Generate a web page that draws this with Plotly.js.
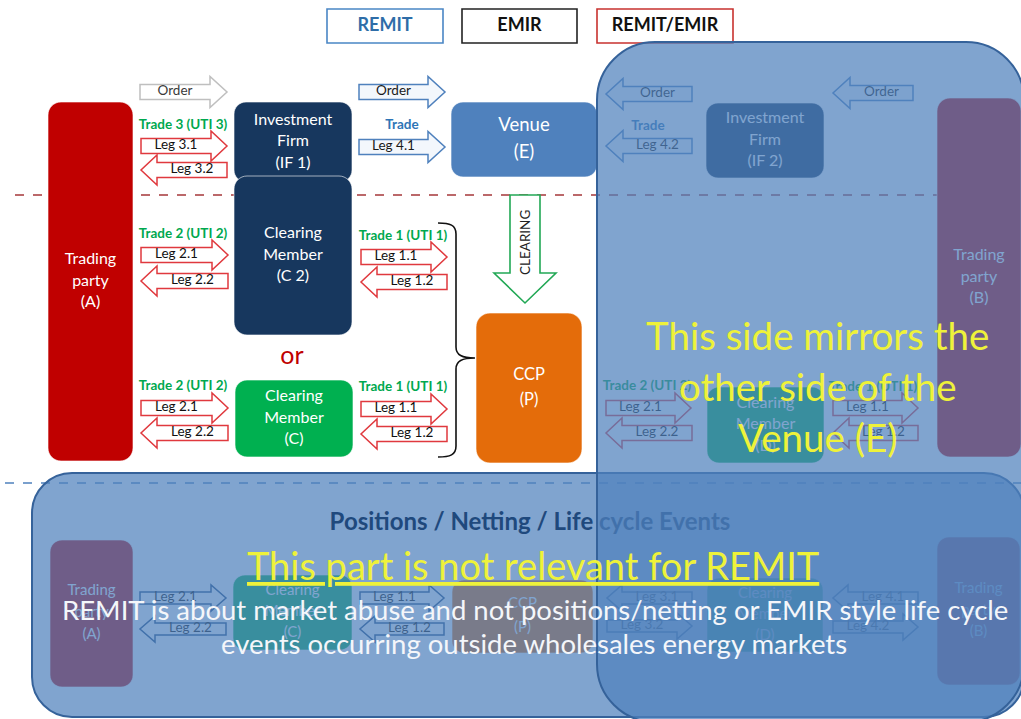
<!DOCTYPE html>
<html><head><meta charset="utf-8">
<script src="https://cdn.plot.ly/plotly-3.0.1.min.js"></script>
<style>html,body{margin:0;padding:0;background:#fff;overflow:hidden}#chart{width:1021px;height:719px}</style>
</head><body><div id="chart"></div>
<script>
// ================= DATA (texts) =================
const legendLabels = ['REMIT', 'EMIR', 'REMIT/EMIR'];
const boxLabels = [
  ['Trading', 'party', '(A)'],
  ['Investment', 'Firm', '(IF 1)'],
  ['Clearing', 'Member', '(C 2)'],
  ['Venue', '(E)'],
  ['Clearing', 'Member', '(C)'],
  ['CCP', '(P)'],
  ['Investment', 'Firm', '(IF 2)'],
  ['Clearing', 'Member', '(D)'],
  ['Trading', 'party', '(B)'],
  ['Trading', 'party', '(A)'],
  ['Clearing', 'Member', '(C)'],
  ['CCP', '(P)'],
  ['Clearing', 'Member', '(D)'],
  ['Trading', 'party', '(B)']
];
const arrowLabels = [
  'Order', 'Leg 3.1', 'Leg 3.2', 'Leg 2.1', 'Leg 2.2', 'Leg 1.1', 'Leg 1.2',
  'Leg 2.1', 'Leg 2.2', 'Leg 1.1', 'Leg 1.2', 'Order', 'Leg 4.1',
  'Order', 'Leg 4.2', 'Order', 'Leg 2.1', 'Leg 2.2', 'Leg 1.1', 'Leg 1.2',
  'Leg 2.1', 'Leg 2.2', 'Leg 1.1', 'Leg 1.2', 'Leg 3.1', 'Leg 3.2', 'Leg 4.1', 'Leg 4.2'
];
const tradeLabels = [
  'Trade 3 (UTI 3)', 'Trade 2 (UTI 2)', 'Trade 1 (UTI 1)', 'Trade 2 (UTI 2)', 'Trade 1 (UTI 1)',
  'Trade', 'Trade', 'Trade 2 (UTI 2)', 'Trade 1 (UTI 1)'
];
const orLabel = 'or';
const clearingLabel = 'CLEARING';
const sectionTitle = 'Positions / Netting / Life cycle Events';
const mirrorNote = ['This side mirrors the', 'other side of the', 'Venue (E)'];
const remitNote = [
  'This part is not relevant for REMIT',
  'REMIT is about market abuse and not positions/netting or EMIR style life cycle',
  'events occurring outside wholesales energy markets'
];

// ================= LAYOUT GEOMETRY & STYLES =================
const FONT = 'Lato, "Open Sans", sans-serif';
const legendGeom = [[327, 9, 443, 43], [462, 9, 577, 43], [597, 9, 733, 43]];
const legendLine = ['#4a86c5', '#222222', '#c8322f'];
const legendText = ['#2e6da8', '#111111', '#111111'];

// [x0,y0,x1,y1,radius]
const boxGeom = [
  [48, 102, 133, 461, 13], [234, 102, 352, 182, 12], [234, 176, 352, 335, 13],
  [451, 102, 597, 177, 12], [235, 380, 353, 457, 12], [476, 313, 582, 463, 14],
  [706, 103, 824, 178, 12], [707, 387, 824, 463, 12], [937, 98, 1021, 457, 13],
  [50, 540, 133, 687, 12], [233, 575, 352, 650, 12], [452, 580, 593, 653, 12],
  [707, 578, 823, 652, 12], [937, 537, 1020, 685, 12]
];
const boxFill = ['#c00000', '#17375e', '#17375e', '#4f81bd', '#00b050', '#e46c0a',
  '#17375e', '#00b050', '#c00000', '#c00000', '#00b050', '#e46c0a', '#00b050', '#c00000'];
const boxFontSize = [16, 16, 16, 18.5, 16, 16.5, 16, 16, 16, 15, 15, 15, 15, 15];
const boxLineGap = [21.5, 21.5, 21.5, 27, 21.5, 25, 21.5, 21.5, 21.5, 22, 21, 24, 21, 21.5];

// [x0, x1, yc, dir, kind]
const arrowGeom = [
  [140, 227, 92, 'r', 'grey'], [141, 227, 146, 'r', 'red'], [141, 227, 170, 'l', 'red'],
  [141, 228, 255, 'r', 'red'], [141, 228, 281, 'l', 'red'], [361, 447, 257, 'r', 'red'], [361, 447, 282, 'l', 'red'],
  [141, 228, 408, 'r', 'red'], [141, 228, 433, 'l', 'red'], [361, 447, 409, 'r', 'red'], [361, 447, 434, 'l', 'red'],
  [359, 445, 92, 'r', 'blue'], [359, 445, 147, 'r', 'blue'],
  [606, 692, 94, 'l', 'blue'], [606, 692, 146, 'l', 'blue'], [833, 913, 93, 'l', 'blue'],
  [606, 691, 408, 'r', 'red'], [606, 692, 433, 'l', 'red'], [833, 918, 408, 'r', 'red'], [833, 918, 433, 'l', 'red'],
  [140, 226, 598, 'r', 'dark'], [140, 226, 629, 'l', 'dark'], [360, 444, 598, 'r', 'dark'], [360, 444, 629, 'l', 'dark'],
  [607, 692, 598, 'l', 'dark'], [607, 692, 626, 'r', 'dark'], [833, 918, 598, 'l', 'dark'], [833, 918, 627, 'r', 'dark']
];
const arrowStyle = {
  grey: {line: '#bfbfbf', fill: '#ffffff', text: '#3a3a3a', bh: 15, hh: 31, hw: 17},
  blue: {line: '#4f81bd', fill: '#f3f7fc', text: '#1a1a1a', bh: 15, hh: 31, hw: 17},
  red:  {line: '#e0393e', fill: '#ffffff', text: '#111111', bh: 15, hh: 30, hw: 16},
  dark: {line: '#1f497d', fill: '#ffffff', text: '#111111', bh: 12, hh: 26, hw: 15}
};
const tradePos = [[183, 126], [183, 235], [403, 237], [183, 387], [403, 388], [402, 126], [648, 127], [647, 387], [873, 388]];
const tradeColor = ['#00a84f', '#00a84f', '#00a84f', '#00a84f', '#00a84f', '#2e75b6', '#2e75b6', '#00a84f', '#00a84f'];

// ================= HELPERS =================
function rr(x0, y0, x1, y1, r) {
  const k = 0.552 * r;
  return `M${x0 + r},${y0} L${x1 - r},${y0} C${x1 - r + k},${y0} ${x1},${y0 + r - k} ${x1},${y0 + r} ` +
    `L${x1},${y1 - r} C${x1},${y1 - r + k} ${x1 - r + k},${y1} ${x1 - r},${y1} ` +
    `L${x0 + r},${y1} C${x0 + r - k},${y1} ${x0},${y1 - r + k} ${x0},${y1 - r} ` +
    `L${x0},${y0 + r} C${x0},${y0 + r - k} ${x0 + r - k},${y0} ${x0 + r},${y0} Z`;
}
function arrowPath(x0, x1, yc, dir, s) {
  const b = s.bh / 2, h = s.hh / 2, w = s.hw;
  if (dir === 'r') {
    return `M${x0},${yc - b} L${x1 - w},${yc - b} L${x1 - w},${yc - h} L${x1},${yc} L${x1 - w},${yc + h} L${x1 - w},${yc + b} L${x0},${yc + b} Z`;
  }
  return `M${x1},${yc - b} L${x0 + w},${yc - b} L${x0 + w},${yc - h} L${x0},${yc} L${x0 + w},${yc + h} L${x0 + w},${yc + b} L${x1},${yc + b} Z`;
}

const shapes = [];
// dashed separators
shapes.push({type: 'line', layer: 'below', xref: 'x', yref: 'y', x0: 15, x1: 1021, y0: 195, y1: 195,
  line: {color: '#a5373a', width: 1.5, dash: 'dash'}});
shapes.push({type: 'line', layer: 'below', xref: 'x', yref: 'y', x0: 5, x1: 1021, y0: 483, y1: 483,
  line: {color: '#4f81bd', width: 1.5, dash: 'dash'}});
// legend boxes
legendGeom.forEach((g, i) => shapes.push({type: 'rect', layer: 'below', xref: 'x', yref: 'y',
  x0: g[0], y0: g[1], x1: g[2], y1: g[3], fillcolor: '#ffffff', line: {color: legendLine[i], width: 1.6}}));
// boxes
boxGeom.forEach((g, i) => shapes.push({type: 'path', layer: 'below', xref: 'x', yref: 'y',
  path: rr(g[0], g[1], g[2], g[3], g[4]), fillcolor: boxFill[i], line: {color: 'rgba(255,255,255,0.6)', width: 1}}));
// arrows
arrowGeom.forEach(a => {
  const s = arrowStyle[a[4]];
  shapes.push({type: 'path', layer: 'below', xref: 'x', yref: 'y',
    path: arrowPath(a[0], a[1], a[2], a[3], s), fillcolor: s.fill, line: {color: s.line, width: 1.5}});
});
// clearing arrow
shapes.push({type: 'path', layer: 'below', xref: 'x', yref: 'y',
  path: 'M510,195 L540,195 L540,273 L556,273 L525,303 L494,273 L510,273 Z',
  fillcolor: '#ffffff', line: {color: '#22a855', width: 1.6}});
// bracket
shapes.push({type: 'path', layer: 'below', xref: 'x', yref: 'y',
  path: 'M438,223 C450,223 456,225 456,234 L456,347 C456,355 462,358 475,358 C462,358 456,361 456,369 L456,446 C456,455 450,457 438,457',
  line: {color: '#111111', width: 1.6}});

// overlays (above text traces)
shapes.push({type: 'path', layer: 'above', xref: 'x', yref: 'y', path: rr(32, 473, 1024, 717, 40),
  fillcolor: 'rgba(79,129,189,0.72)', line: {color: '#35629a', width: 2}});
shapes.push({type: 'rect', layer: 'above', xref: 'x', yref: 'y', x0: 300, x1: 760, y0: 505, y1: 535,
  fillcolor: 'rgba(0,0,0,0)', line: {width: 0},
  label: {text: sectionTitle, textposition: 'middle center', font: {family: FONT, size: 24, color: '#1f497d', weight: 'bold'}}});
shapes.push({type: 'path', layer: 'above', xref: 'x', yref: 'y', path: rr(597, 42, 1024, 722, 58),
  fillcolor: 'rgba(79,129,189,0.72)', line: {color: '#35629a', width: 2}});

// ================= TRACES =================
const bx = [], by = [], bt = [], bs = [];
boxLabels.forEach((lines, i) => {
  const g = boxGeom[i];
  const cx = (g[0] + g[2]) / 2, cy = (g[1] + g[3]) / 2;
  lines.forEach((ln, j) => {
    bx.push(cx); by.push(cy + (j - (lines.length - 1) / 2) * boxLineGap[i]);
    bt.push(ln); bs.push(boxFontSize[i]);
  });
});
const boxTrace = {type: 'scatter', mode: 'text', x: bx, y: by, text: bt, hoverinfo: 'skip',
  textposition: 'middle center', textfont: {family: FONT, size: bs, color: '#ffffff'}, cliponaxis: false};

const ax = [], ay = [], ac = [];
arrowGeom.forEach(a => {
  const s = arrowStyle[a[4]];
  ax.push(a[3] === 'r' ? (a[0] + a[1] - s.hw) / 2 : (a[0] + s.hw + a[1]) / 2);
  ay.push(a[2]);
  ac.push(s.text);
});
const arrowTrace = {type: 'scatter', mode: 'text', x: ax, y: ay, text: arrowLabels, hoverinfo: 'skip',
  textposition: 'middle center', textfont: {family: FONT, size: 13.5, color: ac}, cliponaxis: false};

const tradeTrace = {type: 'scatter', mode: 'text', x: tradePos.map(p => p[0]), y: tradePos.map(p => p[1]),
  text: tradeLabels, hoverinfo: 'skip', textposition: 'middle center',
  textfont: {family: FONT, size: 13.5, color: tradeColor, weight: 'bold'}, cliponaxis: false};

const legendTrace = {type: 'scatter', mode: 'text', x: legendGeom.map(g => (g[0] + g[2]) / 2),
  y: legendGeom.map(g => (g[1] + g[3]) / 2), text: legendLabels, hoverinfo: 'skip', textposition: 'middle center',
  textfont: {family: FONT, size: 18, color: legendText, weight: 'bold'}, cliponaxis: false};

const orTrace = {type: 'scatter', mode: 'text', x: [292], y: [358], text: [orLabel], hoverinfo: 'skip',
  textposition: 'middle center', textfont: {family: FONT, size: 25, color: '#c00000'}, cliponaxis: false};

// ================= ANNOTATIONS (top layer) =================
const annotations = [];
annotations.push({xref: 'x', yref: 'y', x: 525, y: 243, text: clearingLabel, textangle: -90, showarrow: false,
  font: {family: FONT, size: 13.5, color: '#222222'}, xanchor: 'center', yanchor: 'middle'});
const mirrorY = [335, 386, 437];
mirrorNote.forEach((t, i) => annotations.push({xref: 'x', yref: 'y', x: 817, y: mirrorY[i], text: t, showarrow: false,
  font: {family: FONT, size: 38.5, color: '#eef23a'}, xanchor: 'center', yanchor: 'middle'}));
annotations.push({xref: 'x', yref: 'y', x: 533, y: 565, text: '<u>' + remitNote[0] + '</u>', showarrow: false,
  font: {family: FONT, size: 38, color: '#eef23a'}, xanchor: 'center', yanchor: 'middle'});
annotations.push({xref: 'x', yref: 'y', x: 535, y: 609, text: remitNote[1], showarrow: false,
  font: {family: FONT, size: 27.5, color: '#f4f6fa'}, xanchor: 'center', yanchor: 'middle'});
annotations.push({xref: 'x', yref: 'y', x: 534, y: 643, text: remitNote[2], showarrow: false,
  font: {family: FONT, size: 27.5, color: '#f4f6fa'}, xanchor: 'center', yanchor: 'middle'});

const layout = {
  width: 1021, height: 719, margin: {l: 0, r: 0, t: 0, b: 0},
  paper_bgcolor: '#ffffff', plot_bgcolor: '#ffffff', showlegend: false,
  font: {family: FONT},
  xaxis: {range: [0, 1021], visible: false, fixedrange: true},
  yaxis: {range: [719, 0], visible: false, fixedrange: true},
  shapes: shapes, annotations: annotations
};
Plotly.newPlot('chart', [boxTrace, arrowTrace, tradeTrace, legendTrace, orTrace], layout,
  {displayModeBar: false, staticPlot: true});
</script></body></html>
